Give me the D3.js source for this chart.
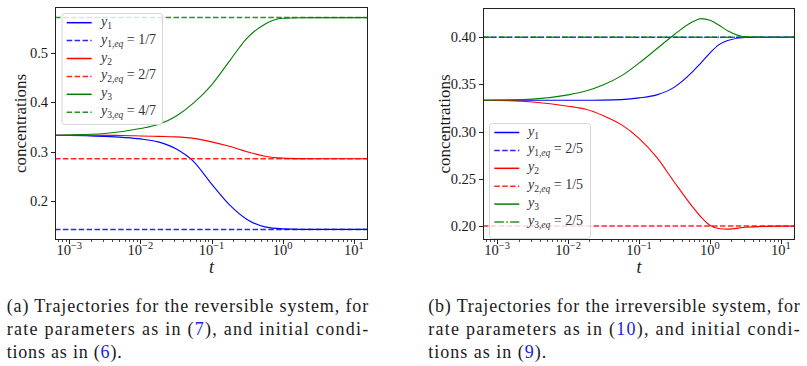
<!DOCTYPE html>
<html>
<head>
<meta charset="utf-8">
<script src="https://cdn.jsdelivr.net/npm/d3@7"></script>
<style>
    body { margin: 0; background: #fff; }
    svg { display: block; }
</style>
</head>
<body>
<svg id="fig" width="807" height="366"></svg>
<script>
// (a) reversible system
const tA  = [6.31e-4, 1e-3, 3.16e-3, 5.62e-3, 0.01, 0.0178, 0.0316, 0.0562, 0.1, 0.178, 0.316, 0.562, 1, 1.78, 3.16, 10, 15.85];
const y1A = [0.3333, 0.3332, 0.331, 0.329, 0.326, 0.320, 0.306, 0.280, 0.235, 0.193, 0.163, 0.148, 0.144, 0.1430, 0.1429, 0.1429, 0.1429];
const y2A = [0.3333, 0.3333, 0.3332, 0.333, 0.332, 0.331, 0.330, 0.327, 0.320, 0.311, 0.300, 0.291, 0.287, 0.286, 0.2857, 0.2857, 0.2857];
const y3A = [0.3335, 0.334, 0.337, 0.341, 0.347, 0.355, 0.372, 0.399, 0.435, 0.483, 0.530, 0.558, 0.570, 0.5712, 0.5714, 0.5714, 0.5714];
const eqA = [1 / 7, 2 / 7, 4 / 7];

// (b) irreversible system
const tB  = [6.31e-4, 1e-3, 3.16e-3, 0.01, 0.0178, 0.0316, 0.0562, 0.1, 0.178, 0.316, 0.562, 0.75, 1, 1.33, 1.78, 3.16, 5.62, 10, 15.85];
const y1B = [0.3333, 0.3333, 0.3333, 0.3333, 0.3333, 0.3334, 0.334, 0.3358, 0.339, 0.3472, 0.363, 0.373, 0.3833, 0.392, 0.3965, 0.3998, 0.4, 0.4, 0.4];
const y2B = [0.3333, 0.3332, 0.3315, 0.327, 0.3237, 0.3168, 0.3075, 0.293, 0.2728, 0.2465, 0.221, 0.2096, 0.201, 0.1975, 0.1968, 0.1988, 0.1997, 0.2, 0.2];
const y3B = [0.3333, 0.3335, 0.3345, 0.339, 0.343, 0.3496, 0.3591, 0.3726, 0.3878, 0.4029, 0.4161, 0.4197, 0.418, 0.413, 0.4069, 0.4005, 0.4, 0.4, 0.4];
const eqB = [2 / 5, 1 / 5, 2 / 5];

// ticks
const xTicks = [1e-3, 1e-2, 1e-1, 1, 10];
const xTickExp = ['\u22123', '\u22122', '\u22121', '0', '1'];
const yTicksA = [0.2, 0.3, 0.4, 0.5];
const yTicksB = [0.20, 0.25, 0.30, 0.35, 0.40];

// legend text
const subs = ['1', '1,eq', '2', '2,eq', '3', '3,eq'];
const rhsA = ['', '1/7', '', '2/7', '', '4/7'];
const rhsB = ['', '2/5', '', '1/5', '', '2/5'];

// captions
const captionA = [
    ['(a) Trajectories for the reversible system, for'],
    ['rate parameters as in (', {ref: '7'}, '), and initial condi-'],
    ['tions as in (', {ref: '6'}, ').']
];
const captionB = [
    ['(b) Trajectories for the irreversible system, for'],
    ['rate parameters as in (', {ref: '10'}, '), and initial condi-'],
    ['tions as in (', {ref: '9'}, ').']
];

const FONT = "'Liberation Serif', 'DejaVu Serif', serif";
const svg = d3.select('#fig').attr('font-family', FONT);
const colors = ['#0000ff', '#ff0000', '#008000'];
const bottom = 240;

function txt(parent) {
    return parent.append('text')
        .attr('font-family', FONT)
        .attr('fill', '#1a1a1a');
}

function drawPanel(cfg) {
    const x = d3.scaleLog().domain([Math.pow(10, -3.2), Math.pow(10, 1.2)]).range([cfg.left, cfg.right]);
    const y = d3.scaleLinear().domain(cfg.yDomain).range([bottom, cfg.top]);
    const g = svg.append('g');

    // clip to axes box
    g.append('clipPath').attr('id', cfg.id + '-clip')
        .append('rect')
        .attr('x', cfg.left).attr('y', cfg.top)
        .attr('width', cfg.right - cfg.left).attr('height', bottom - cfg.top);
    const plot = g.append('g').attr('clip-path', `url(#${cfg.id}-clip)`);

    const line = d3.line()
        .x(d => x(d[0]))
        .y(d => y(d[1]))
        .curve(d3.curveMonotoneX);

    // curve + equilibrium line, in legend order
    cfg.series.forEach((s, i) => {
        plot.append('path')
            .datum(cfg.t.map((t, j) => [t, s[j]]))
            .attr('d', line)
            .attr('fill', 'none')
            .attr('stroke', colors[i])
            .attr('stroke-width', 1.1);
        plot.append('line')
            .attr('x1', cfg.left).attr('x2', cfg.right)
            .attr('y1', y(cfg.eq[i])).attr('y2', y(cfg.eq[i]))
            .attr('stroke', colors[i])
            .attr('stroke-opacity', 0.85)
            .attr('stroke-width', 1.5)
            .attr('stroke-dasharray', cfg.eqDash[i]);
    });

    // frame
    g.append('rect')
        .attr('x', cfg.left + 0.5).attr('y', cfg.top + 0.5)
        .attr('width', cfg.right - cfg.left - 1).attr('height', bottom - cfg.top - 1)
        .attr('fill', 'none')
        .attr('stroke', '#222')
        .attr('stroke-width', 1);

    // x ticks
    const minor = [];
    for (let e = -4; e <= 1; e++) {
        for (let k = 2; k <= 9; k++) {
            const v = k * Math.pow(10, e);
            if (v > x.domain()[0] && v < x.domain()[1]) minor.push(v);
        }
    }
    g.selectAll('line.minor').data(minor).enter().append('line')
        .attr('x1', d => Math.round(x(d)) + 0.5).attr('x2', d => Math.round(x(d)) + 0.5)
        .attr('y1', bottom).attr('y2', bottom + 2)
        .attr('stroke', '#222').attr('stroke-width', 0.8);
    g.selectAll('line.major').data(xTicks).enter().append('line')
        .attr('x1', d => Math.round(x(d)) + 0.5).attr('x2', d => Math.round(x(d)) + 0.5)
        .attr('y1', bottom).attr('y2', bottom + 4)
        .attr('stroke', '#222').attr('stroke-width', 1);
    xTicks.forEach((d, i) => {
        const tx = txt(g)
            .attr('x', x(d)).attr('y', 255)
            .attr('text-anchor', 'middle')
            .attr('font-size', 14.5);
        tx.append('tspan').text('10');
        tx.append('tspan').attr('dy', -6).attr('font-size', 10.5).text(xTickExp[i]);
    });

    // y ticks
    cfg.yTicks.forEach(d => {
        const yy = Math.round(y(d)) + 0.5;
        g.append('line')
            .attr('x1', cfg.left - 4).attr('x2', cfg.left)
            .attr('y1', yy).attr('y2', yy)
            .attr('stroke', '#222').attr('stroke-width', 1);
        txt(g)
            .attr('x', cfg.left - 7).attr('y', y(d))
            .attr('dy', '0.34em')
            .attr('text-anchor', 'end')
            .attr('font-size', 14.5)
            .text(d3.format(cfg.yFormat)(d));
    });

    // axis labels
    txt(g)
        .attr('x', (cfg.left + cfg.right) / 2).attr('y', 273)
        .attr('text-anchor', 'middle')
        .attr('font-size', 18)
        .attr('font-style', 'italic')
        .text('t');
    txt(g)
        .attr('transform', `translate(${cfg.ylabelX},${(cfg.top + bottom) / 2}) rotate(-90)`)
        .attr('text-anchor', 'middle')
        .attr('font-size', 17)
        .text('concentrations');

    // legend
    const L = cfg.legend;
    const lg = g.append('g');
    lg.append('rect')
        .attr('x', L.x + 0.5).attr('y', L.y + 0.5)
        .attr('width', L.w).attr('height', L.h)
        .attr('rx', 3)
        .attr('fill', '#fff').attr('fill-opacity', 0.8)
        .attr('stroke', '#d6d6d6').attr('stroke-width', 1);
    subs.forEach((sub, i) => {
        const ry = L.row0 + i * 17.9;
        const c = colors[Math.floor(i / 2)];
        const isEq = i % 2 === 1;
        lg.append('line')
            .attr('x1', L.hx).attr('x2', L.hx + 25)
            .attr('y1', ry).attr('y2', ry)
            .attr('stroke', c)
            .attr('stroke-opacity', isEq ? 0.85 : 1)
            .attr('stroke-width', 1.5)
            .attr('stroke-dasharray', isEq ? cfg.eqDash[Math.floor(i / 2)] : null);
        const tx = txt(lg)
            .attr('x', L.tx).attr('y', ry + 3)
            .attr('font-size', 14)
            .attr('fill', '#333');
        tx.append('tspan').attr('font-style', 'italic').text('y');
        const parts = sub.split(',');
        tx.append('tspan').attr('dy', 3).attr('font-size', 9.5).text(parts[0]);
        if (parts[1]) {
            tx.append('tspan').attr('font-size', 9.5).text(',');
            tx.append('tspan').attr('font-size', 9.5).attr('font-style', 'italic').text(parts[1]);
        }
        if (cfg.rhs[i]) {
            tx.append('tspan').attr('dy', -3).text('\u00a0=\u00a0' + cfg.rhs[i]);
        }
    });
}

function drawCaption(lines, x0, widths) {
    const baselines = [311.7, 334.8, 357.5];
    lines.forEach((parts, i) => {
        const tx = txt(svg)
            .attr('x', x0).attr('y', baselines[i])
            .attr('textLength', widths[i])
            .attr('lengthAdjust', 'spacing')
            .attr('font-size', 18);
        parts.forEach(p => {
            if (typeof p === 'string') tx.append('tspan').text(p);
            else tx.append('tspan').attr('fill', '#1c1ce6').text(p.ref);
        });
    });
}

drawPanel({
    id: 'a', left: 55, right: 368, top: 7,
    yDomain: [0.1214, 0.5929], yTicks: yTicksA, yFormat: '.1f',
    t: tA, series: [y1A, y2A, y3A], eq: eqA,
    eqDash: ['5.5,2.4', '5.5,2.4', '5.5,2.4'],
    ylabelX: 26, rhs: rhsA,
    legend: {x: 61.5, y: 13, w: 100.5, h: 111, row0: 22.7, hx: 66.7, tx: 101}
});

drawPanel({
    id: 'b', left: 483, right: 795, top: 8,
    yDomain: [0.1853, 0.431], yTicks: yTicksB, yFormat: '.2f',
    t: tB, series: [y1B, y2B, y3B], eq: eqB,
    eqDash: ['5.5,2.4', '5.5,2.4', '9.6,2.4,1.5,2.4'],
    ylabelX: 450, rhs: rhsB,
    legend: {x: 489, y: 123, w: 101, h: 115, row0: 132.5, hx: 494.3, tx: 528}
});

drawCaption(captionA, 6.7, [361.5, 361.5, 115]);
drawCaption(captionB, 428.3, [371.5, 371.5, 118]);
</script>
</body>
</html>
